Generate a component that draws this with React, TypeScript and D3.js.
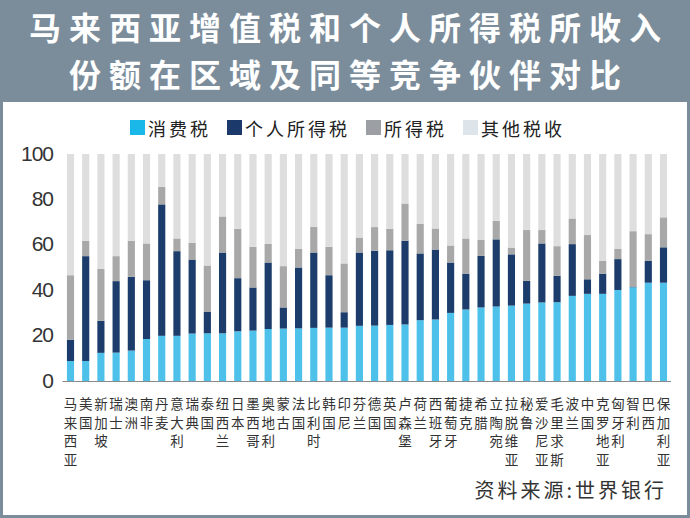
import React from 'react';
import * as d3 from 'd3';

const countries = ['马来西亚','美国','新加坡','瑞士','澳洲','南非','丹麦','意大利','瑞典','泰国','纽西兰','日本','墨西哥','奥地利','蒙古','法国','比利时','韩国','印尼','芬兰','德国','英国','卢森堡','荷兰','西班牙','葡萄牙','捷克','希腊','立陶宛','拉脱维亚','秘鲁','爱沙尼亚','毛里求斯','波兰','中国','克罗地亚','匈牙利','智利','巴西','保加利亚'];

const consumptionTax = [8.8,8.8,12.4,12.5,13.4,18.5,19.9,19.9,20.9,21,21,21.9,22.2,22.9,23.1,23.2,23.4,23.5,23.5,24.3,24.4,24.7,24.9,26.8,27.1,30,31.5,32.4,32.8,33.2,34.1,34.6,34.7,37.5,38.4,38.4,40.1,41.3,43.3,43.3];
const personalIncomeTax = [9.4,46.2,14.1,31.5,32.5,25.9,57.9,37.3,32.6,9.4,35.6,23.4,19,29.3,9.3,26.8,33.2,23.1,6.8,32.3,33,32.9,36.9,29.4,30.8,22.2,15.8,22.7,29.6,22.6,10,26,11.7,22.8,6.4,8.9,13.6,0.3,9.7,15.6];
const corporateTax = [28.4,6.8,22.9,11,15.9,16.2,7.8,5.6,7.4,20.5,15.9,21.7,17.9,8.2,18.2,8.2,11.3,12.5,21.5,6.6,10.4,9.4,16.4,13.1,9.3,7.5,15.5,7,8.2,3,22.4,5.9,13,11.3,19.5,5.6,4.6,24.4,11.7,13.2];
const otherTax = consumptionTax.map((v, i) => +(100 - v - personalIncomeTax[i] - corporateTax[i]).toFixed(1));

const seriesKeys = ['消费税','个人所得税','所得税','其他税收'];
const barColors = ['#4dc1ea','#1c3d6b','#a8a8a8','#dedede'];
const legendColors = ['#1ab8e8','#1b3a6b','#9c9fa3','#dde5ea'];
const yTicks = [0,20,40,60,80,100];

const titleLines = ['马来西亚增值税和个人所得税所收入','份额在区域及同等竞争伙伴对比'];
const sourceText = '资料来源:世界银行';

export default function App() {
  const W = 690, H = 518;
  const rows = countries.map((c, i) => ({
    country: c,
    [seriesKeys[0]]: consumptionTax[i],
    [seriesKeys[1]]: personalIncomeTax[i],
    [seriesKeys[2]]: corporateTax[i],
    [seriesKeys[3]]: otherTax[i],
  }));
  const stack = d3.stack<any>().keys(seriesKeys)(rows);
  const x = d3.scaleBand().domain(countries).range([62.9, 671.1]).paddingInner(0.53).paddingOuter(0.265);
  const y = d3.scaleLinear().domain([0, 100]).range([381, 154]);
  const frame = '#7b8d9b';
  const cjk = '"Noto Sans CJK SC", "Noto Sans", sans-serif';
  const legendX = [130, 227, 366, 463];

  return (
    <svg width={W} height={H} style={{ position: 'absolute', left: 0, top: 0, background: '#fff' }}>
      <rect x={0} y={0} width={W} height={102} fill={frame} />
      <rect x={1.5} y={1.5} width={W - 3} height={H - 3} fill="none" stroke={frame} strokeWidth={3} />
      {titleLines.map((t, i) => (
        <text key={i} x={W / 2 + 4} y={26 + i * 47} textAnchor="middle" dominantBaseline="central"
          fill="#fff" fontFamily={cjk} fontWeight={700} fontSize={32} letterSpacing={8}>{t}</text>
      ))}
      {seriesKeys.map((k, i) => (
        <g key={k}>
          <rect x={legendX[i]} y={120} width={15} height={15} fill={legendColors[i]} />
          <text x={legendX[i] + 18} y={128} dominantBaseline="central" fontFamily={cjk} fontSize={18}
            letterSpacing={3} fill="#222">{k}</text>
        </g>
      ))}
      {stack.map((s, si) => (
        <g key={s.key} fill={barColors[si]}>
          {s.map((d: any, i: number) => (
            <rect key={i} x={x(countries[i])} y={y(d[1])} width={x.bandwidth()} height={y(d[0]) - y(d[1])} />
          ))}
        </g>
      ))}
      <line x1={62.5} x2={671} y1={381.5} y2={381.5} stroke="#8a8a8a" strokeWidth={1} />
      {yTicks.map(t => (
        <text key={t} x={53} y={y(t) - 1} textAnchor="end" dominantBaseline="central"
          fontFamily='"Liberation Sans", Arial, sans-serif' fontSize={21} letterSpacing={-1} fill="#333">{t}</text>
      ))}
      {countries.map(c => (
        <g key={c}>
          {Array.from(c).map((ch, j) => (
            <text key={j} x={(x(c) as number) + x.bandwidth() / 2} y={403 + j * 18.5} textAnchor="middle"
              dominantBaseline="central" fontFamily={cjk} fontSize={13.5} fill="#333">{ch}</text>
          ))}
        </g>
      ))}
      <text x={667} y={489} textAnchor="end" dominantBaseline="central" fontFamily={cjk} fontSize={20}
        letterSpacing={3} fill="#333">{sourceText}</text>
    </svg>
  );
}
